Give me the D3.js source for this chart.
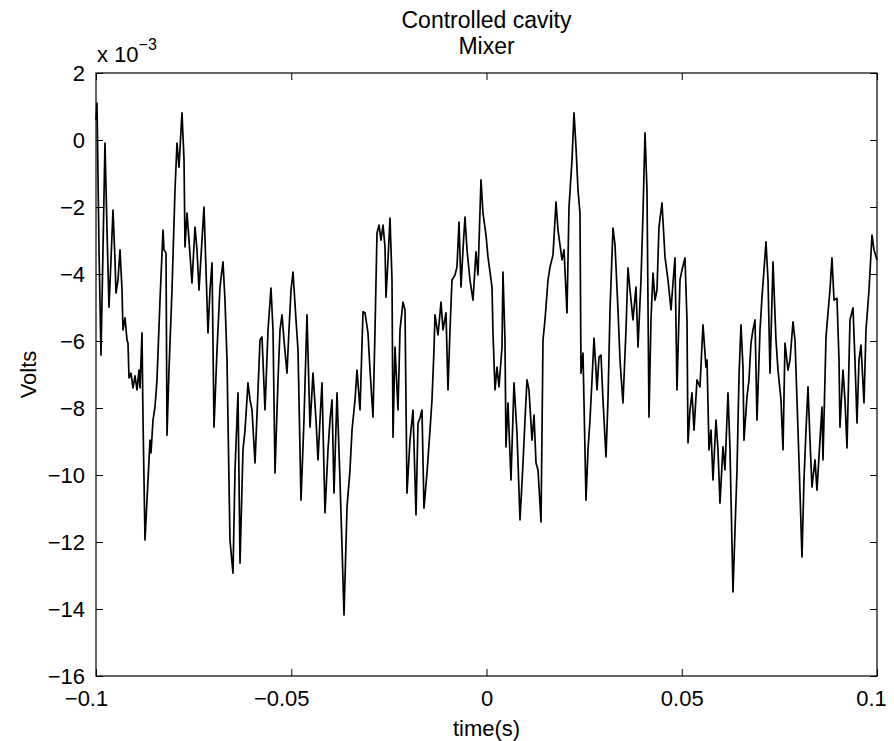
<!DOCTYPE html>
<head>
    <meta charset="utf-8">
    <title>Controlled cavity</title>
    <style>
        body { margin: 0; background: #fff; }
        text { font-family: "Liberation Sans", Arial, sans-serif; fill: #000; }
        .axis path { display: none; }
        .axis line { stroke: #000; stroke-width: 1; }
        .axis text { font-size: 22px; }
    </style>
</head>
<body>
    <svg width="894" height="741"></svg>

    <script src="https://cdnjs.cloudflare.com/ajax/libs/d3/7.8.5/d3.min.js"></script>
    <script>

        // titles and labels
        var titleLines = ["Controlled cavity", "Mixer"];
        var xLabel = "time(s)";
        var yLabel = "Volts";

        var xTicks = [-0.1, -0.05, 0, 0.05, 0.1];
        var yTicks = [2, 0, -2, -4, -6, -8, -10, -12, -14, -16];

        // trace: [time in ms, volts in units of 1e-3]
        var trace = [
            [-100.0, 0.60], [-99.74, 1.10], [-99.23, -3.28], [-98.72, -6.42], [-98.21, -3.28],
            [-97.70, -0.09], [-97.18, -2.69], [-96.67, -4.99], [-96.16, -3.58], [-95.65, -2.09],
            [-95.13, -3.58], [-94.88, -4.57], [-94.37, -4.18], [-93.85, -3.28], [-93.34, -4.48],
            [-93.09, -5.67], [-92.57, -5.31], [-92.06, -5.97], [-91.81, -6.06], [-91.55, -7.10],
            [-91.04, -6.96], [-90.53, -7.40], [-90.01, -7.04], [-89.50, -7.46], [-88.99, -6.87],
            [-88.73, -7.40], [-88.22, -5.76], [-87.96, -8.36], [-87.45, -11.94], [-86.94, -10.75],
            [-86.17, -8.96], [-85.92, -9.34], [-85.40, -8.36], [-84.89, -7.97], [-84.38, -7.16],
            [-83.61, -4.78], [-82.84, -2.69], [-82.59, -3.28], [-82.07, -3.37], [-81.82, -8.81],
            [-81.31, -6.87], [-80.54, -4.48], [-79.77, -1.49], [-79.26, -0.09], [-78.75, -0.81],
            [-78.23, 0.30], [-77.98, 0.81], [-77.46, -0.60], [-77.21, -3.19], [-76.70, -2.18],
            [-76.18, -2.99], [-75.42, -4.27], [-74.65, -2.60], [-74.14, -3.28], [-73.62, -4.48],
            [-72.86, -2.99], [-72.34, -2.00], [-71.83, -3.88], [-71.32, -5.76], [-70.81, -4.48],
            [-70.29, -3.67], [-69.78, -8.57], [-69.01, -6.27], [-68.25, -4.39], [-67.48, -3.64],
            [-66.97, -4.78], [-66.45, -6.57], [-66.20, -8.36], [-65.69, -11.94], [-64.92, -12.93],
            [-64.40, -9.85], [-63.64, -7.55], [-63.12, -12.63], [-62.36, -9.25], [-61.84, -8.66],
            [-61.08, -7.25], [-60.56, -7.76], [-60.05, -8.06], [-59.28, -9.64], [-58.51, -7.46],
            [-58.00, -5.97], [-57.49, -5.88], [-56.72, -8.06], [-55.95, -5.67], [-55.19, -4.42],
            [-54.67, -5.67], [-54.16, -9.94], [-53.39, -7.16], [-52.88, -5.67], [-52.37, -5.22],
            [-51.86, -5.97], [-51.09, -6.96], [-50.58, -5.67], [-50.06, -4.48], [-49.55, -3.94],
            [-48.78, -5.37], [-48.27, -6.27], [-47.50, -10.75], [-46.74, -8.36], [-45.97, -5.22],
            [-45.20, -8.57], [-44.43, -6.96], [-43.66, -8.36], [-43.15, -9.55], [-42.64, -8.36],
            [-42.13, -7.25], [-41.36, -11.13], [-40.59, -9.25], [-40.08, -8.36], [-39.56, -7.76],
            [-39.05, -10.54], [-38.28, -7.55], [-37.52, -10.15], [-37.00, -12.15], [-36.49, -14.18],
            [-35.72, -10.96], [-34.96, -9.85], [-34.44, -8.66], [-33.67, -7.76], [-33.16, -6.87],
            [-32.39, -8.06], [-31.63, -5.13], [-31.11, -5.16], [-30.35, -5.76], [-29.83, -6.87],
            [-29.07, -8.27], [-28.55, -5.67], [-28.04, -2.78], [-27.53, -2.54], [-27.02, -2.99],
            [-26.50, -2.54], [-25.99, -3.19], [-25.74, -4.69], [-25.22, -3.58], [-24.71, -2.33],
            [-24.20, -4.18], [-23.94, -8.87], [-23.43, -6.18], [-22.66, -8.06], [-22.15, -5.67],
            [-21.38, -4.84], [-20.87, -5.07], [-20.36, -10.54], [-19.59, -8.96], [-18.82, -8.06],
            [-18.05, -11.19], [-17.54, -8.45], [-17.03, -8.30], [-16.52, -8.06], [-16.01, -10.99],
            [-15.24, -9.94], [-14.47, -8.66], [-13.96, -7.76], [-13.45, -6.27], [-13.19, -5.22],
            [-12.42, -5.82], [-11.65, -4.84], [-11.14, -5.67], [-10.37, -5.16], [-9.86, -7.46],
            [-9.35, -5.67], [-8.84, -4.18], [-8.07, -4.03], [-7.56, -3.79], [-7.04, -2.45],
            [-6.53, -4.39], [-6.02, -3.28], [-5.51, -2.30], [-4.99, -3.28], [-4.23, -4.18],
            [-3.46, -4.78], [-2.69, -3.34], [-2.18, -4.03], [-1.41, -1.19], [-0.90, -2.18],
            [-0.13, -2.84], [0.38, -3.49], [1.41, -4.39], [1.66, -5.76], [2.18, -7.46],
            [2.69, -6.78], [3.20, -7.37], [3.97, -6.18], [4.22, -3.94], [4.73, -5.97],
            [4.99, -9.16], [5.50, -7.85], [6.27, -10.15], [7.04, -7.25], [7.81, -8.75],
            [8.58, -11.34], [9.35, -9.64], [9.86, -8.36], [10.37, -7.16], [10.88, -7.46],
            [11.65, -8.96], [12.17, -8.21], [12.68, -9.64], [13.19, -9.85], [13.96, -11.40],
            [14.47, -5.97], [14.98, -5.37], [15.75, -4.18], [16.27, -3.79], [17.03, -3.43],
            [17.80, -1.85], [18.31, -2.69], [18.82, -3.13], [19.33, -3.58], [19.85, -3.28],
            [20.61, -5.16], [21.13, -2.00], [21.89, -0.60], [22.41, 0.81], [22.92, -0.21],
            [23.43, -1.49], [23.94, -2.18], [24.20, -6.96], [24.71, -6.36], [25.48, -10.75],
            [25.99, -9.25], [26.50, -8.36], [27.02, -7.16], [27.53, -5.91], [28.04, -6.87],
            [28.30, -7.46], [28.81, -6.48], [29.32, -6.42], [29.83, -7.76], [30.60, -9.46],
            [31.11, -7.76], [31.63, -5.07], [32.39, -2.63], [32.91, -3.13], [33.67, -5.07],
            [34.19, -6.57], [34.95, -7.85], [35.72, -5.67], [36.23, -3.82], [36.75, -4.48],
            [37.51, -5.37], [38.28, -4.39], [38.80, -6.18], [39.56, -4.18], [40.08, -2.18],
            [40.59, 0.21], [41.10, -1.49], [41.61, -8.27], [42.12, -5.37], [42.64, -3.97],
            [43.15, -4.78], [43.66, -4.48], [44.17, -2.60], [44.94, -1.88], [45.71, -3.49],
            [46.48, -4.18], [47.25, -5.07], [47.76, -4.27], [48.27, -3.52], [48.78, -7.46],
            [49.55, -4.18], [50.06, -3.88], [50.83, -3.52], [51.34, -5.37], [51.60, -9.04],
            [52.11, -8.06], [52.62, -7.55], [53.14, -8.66], [53.90, -7.16], [54.67, -7.37],
            [55.44, -5.52], [56.21, -6.78], [56.47, -6.57], [56.98, -9.25], [57.49, -8.66],
            [58.00, -10.15], [58.77, -8.36], [59.28, -9.25], [59.79, -10.84], [60.56, -9.16],
            [61.07, -9.85], [61.84, -7.55], [62.36, -9.25], [63.12, -13.49], [63.64, -11.64],
            [64.15, -9.85], [64.66, -7.07], [65.17, -5.52], [65.68, -6.78], [65.94, -8.96],
            [66.71, -7.67], [67.22, -7.16], [67.73, -6.06], [68.24, -5.67], [68.76, -5.37],
            [69.27, -8.36], [70.04, -5.67], [70.55, -4.69], [71.06, -3.88], [71.57, -3.04],
            [72.09, -4.18], [72.60, -6.96], [73.37, -3.64], [74.13, -5.97], [74.65, -6.87],
            [75.41, -7.76], [75.93, -9.25], [76.44, -6.06], [77.21, -6.87], [77.72, -6.57],
            [78.49, -5.43], [79.00, -5.97], [79.51, -7.76], [80.02, -9.55], [80.79, -12.45],
            [81.30, -10.15], [81.82, -8.66], [82.33, -7.37], [82.84, -8.96], [83.35, -10.36],
            [84.12, -9.55], [84.63, -10.45], [85.40, -8.96], [85.91, -7.97], [86.17, -9.55],
            [86.94, -5.88], [87.45, -5.16], [87.96, -4.48], [88.47, -3.52], [88.99, -4.78],
            [89.75, -4.72], [90.27, -6.57], [90.52, -8.57], [91.29, -6.87], [91.80, -7.76],
            [92.32, -9.19], [93.08, -5.37], [93.85, -5.01], [94.36, -6.57], [94.88, -8.45],
            [95.39, -6.57], [95.90, -6.12], [96.67, -7.85], [97.18, -5.67], [97.95, -4.48],
            [98.72, -2.84], [99.23, -3.28], [100.0, -3.58]
        ];

        var svg = d3.select("svg"),
            margin = { top: 73, right: 17, bottom: 65, left: 96 },
            width = +svg.attr("width") - margin.left - margin.right,
            height = +svg.attr("height") - margin.top - margin.bottom,
            g = svg.append("g")
                .attr("transform", "translate(" + margin.left + "," + margin.top + ")");

        var x = d3.scaleLinear().domain([-0.1, 0.1]).range([0, width]);
        var y = d3.scaleLinear().domain([-16, 2]).range([height, 0]);

        var line = d3.line()
            .x(function (d) { return x(d[0] / 1000); })
            .y(function (d) { return y(d[1]); });

        // the trace
        g.append("path")
            .datum(trace)
            .attr("fill", "none")
            .attr("stroke", "#000")
            .attr("stroke-width", 1.7)
            .attr("stroke-linejoin", "round")
            .attr("d", line);

        var fmtX = function (d) { return d === 0 ? "0" : d3.format("")(d); };

        // bottom and left axes with labels, ticks pointing in
        var xAxisG = g.append("g")
            .attr("class", "axis")
            .attr("transform", "translate(0," + height + ")")
            .call(d3.axisBottom(x).tickValues(xTicks).tickFormat(fmtX)
                .tickSizeInner(-7).tickSizeOuter(0).tickPadding(14));

        // matlab nudges the minus-signed labels to the left, and the last one in
        xAxisG.selectAll(".tick text")
            .attr("dx", function (d) { return d < 0 ? -10 : (d === 0.1 ? -6 : 0); });

        g.append("g")
            .attr("class", "axis")
            .call(d3.axisLeft(y).tickValues(yTicks).tickFormat(d3.format(""))
                .tickSizeInner(-7).tickSizeOuter(0).tickPadding(11));

        // top and right ticks only
        g.append("g")
            .attr("class", "axis")
            .call(d3.axisTop(x).tickValues(xTicks).tickFormat("")
                .tickSizeInner(-7).tickSizeOuter(0));

        g.append("g")
            .attr("class", "axis")
            .attr("transform", "translate(" + width + ",0)")
            .call(d3.axisRight(y).tickValues(yTicks).tickFormat("")
                .tickSizeInner(-7).tickSizeOuter(0));

        // box
        g.append("rect")
            .attr("width", width)
            .attr("height", height)
            .attr("fill", "none")
            .attr("stroke", "#000")
            .attr("stroke-width", 1.2);

        // exponent label
        var expo = svg.append("text")
            .attr("x", margin.left + 1)
            .attr("y", 62)
            .style("font-size", "22px");
        expo.append("tspan").text("x 10");
        expo.append("tspan")
            .attr("dy", -12)
            .style("font-size", "16px")
            .text("\u22123");

        // title
        svg.selectAll(".title")
            .data(titleLines)
            .enter().append("text")
            .attr("class", "title")
            .attr("x", margin.left + width / 2)
            .attr("y", function (d, i) { return 28 + i * 26; })
            .attr("text-anchor", "middle")
            .style("font-size", "23px")
            .text(function (d) { return d; });

        // axis labels
        svg.append("text")
            .attr("x", margin.left + width / 2)
            .attr("y", 736)
            .attr("text-anchor", "middle")
            .style("font-size", "22px")
            .text(xLabel);

        svg.append("text")
            .attr("transform", "translate(36," + (margin.top + height / 2) + ") rotate(-90)")
            .attr("text-anchor", "middle")
            .style("font-size", "22px")
            .text(yLabel);

    </script>
</body>
